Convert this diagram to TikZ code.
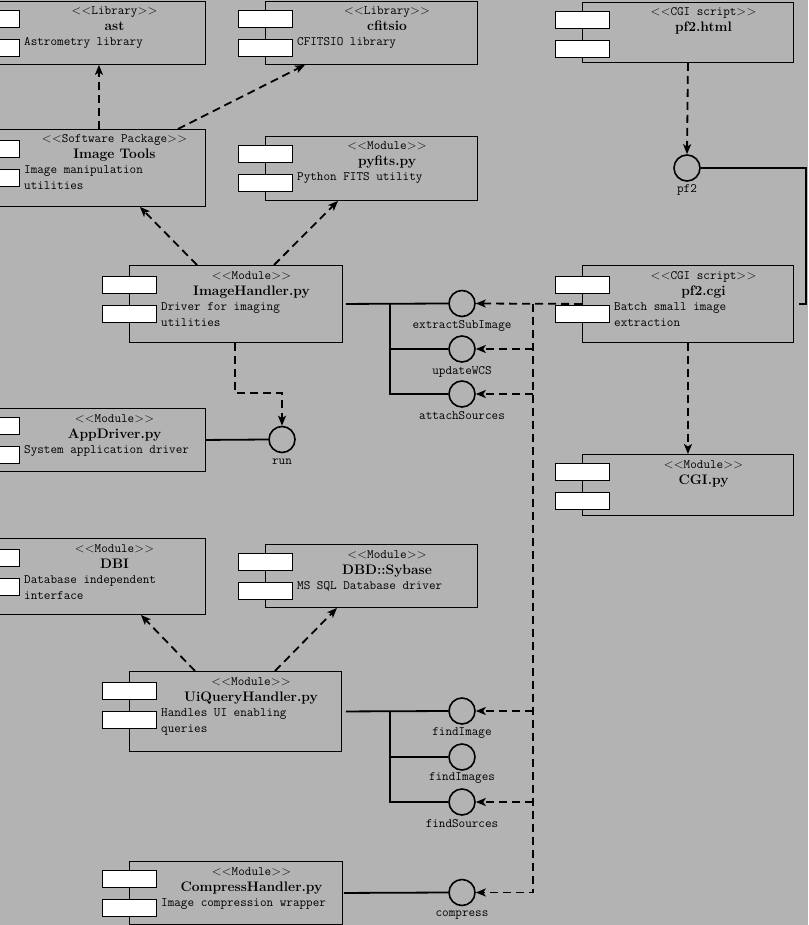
\documentclass[tikz,border=0pt]{standalone}
\usepackage{fontspec}
\usetikzlibrary{arrows.meta}
\definecolor{bg}{RGB}{179,179,179}
\newcommand\tsize{\fontsize{12.8}{15}\selectfont}
\newcommand\titlesize{\fontsize{13.8}{16}\selectfont}
\newcommand\stl{<\kern0.4pt<}
\newcommand\stg{>\kern0.4pt>}
\newcommand\stereo[1]{{\rmfamily\stl}\texttt{#1}{\rmfamily\stg}}
\tikzset{
  compbox/.style={draw, line width=0.9pt, inner sep=0pt, anchor=north west},
  port/.style={draw, fill=white, line width=0.9pt, minimum width=54pt, minimum height=17pt, inner sep=0pt, anchor=north west},
  iface/.style={circle, draw, line width=1.6pt, minimum size=26pt, inner sep=0pt},
  dep/.style={dash pattern=on 8pt off 5pt, line width=1.8pt, -{Stealth[length=10pt,width=8pt,inset=2.5pt]}},
  conn/.style={line width=1.8pt},
  stereotext/.style={font=\tsize, anchor=base, inner sep=0pt},
  titletext/.style={font=\titlesize\bfseries, anchor=base, inner sep=0pt},
  desctext/.style={font=\tsize\ttfamily, anchor=base west, inner sep=0pt},
  labeltext/.style={font=\tsize\ttfamily, anchor=base, inner sep=0pt},
}
% #1 name, #2 x left, #3 y top, #4 x right, #5 y bottom, #6 stereotype, #7 title, #8 #9 description lines
\newcommand\comp[9]{%
  \pgfmathsetmacro\cw{#4-(#2)}%
  \pgfmathsetmacro\ch{#5-(#3)}%
  \pgfmathsetmacro\po{((#5-(#3))>70)?11:9}%
  \pgfmathsetmacro\cx{(#2+27+#4)/2+2.5}%
  \node[compbox, minimum width=\cw pt, minimum height=\ch pt] (#1) at (#2,#3) {};
  \node[port] (#1-p1) at ({#2-27},{#3+\po}) {};
  \node[port] (#1-p2) at ({#2-27},{#3+\po+29}) {};
  \node[stereotext] (#1-s) at (\cx,{#3+14}) {\stereo{#6}};
  \node[titletext] (#1-t) at (\cx,{#3+30}) {#7};
  \if\relax\detokenize{#8}\relax\else
    \node[desctext] (#1-d1) at ({#2+32},{#3+45}) {#8};
  \fi
  \if\relax\detokenize{#9}\relax\else
    \node[desctext] (#1-d2) at ({#2+32},{#3+61}) {#9};
  \fi
}
\begin{document}
\begin{tikzpicture}[x=1pt, y=-1pt]
\useasboundingbox (0,0) rectangle (808,925);
\fill[bg] (0,0) rectangle (808,925);
\clip (0,0) rectangle (808,925);

% components
\comp{ast}{-8}{1}{205}{64}{Library}{ast}{Astrometry library}{}
\comp{cfitsio}{265}{1}{477}{64}{Library}{cfitsio}{CFITSIO library}{}
\comp{pfhtml}{582}{2}{793}{62}{CGI script}{pf2.html}{}{}
\comp{imagetools}{-8}{129}{205}{206}{Software Package}{Image Tools}{Image manipulation}{utilities}
\comp{pyfits}{265}{136}{477}{200}{Module}{pyfits.py}{Python FITS utility}{}
\comp{imagehandler}{129}{265}{342}{342}{Module}{ImageHandler.py}{Driver for imaging}{utilities}
\comp{pfcgi}{582}{265}{793}{342}{CGI script}{pf2.cgi}{Batch small image}{extraction}
\comp{appdriver}{-8}{408}{205}{471}{Module}{AppDriver.py}{System application driver}{}
\comp{cgipy}{582}{454}{793}{515}{Module}{CGI.py}{}{}
\comp{dbi}{-8}{538}{205}{614}{Module}{DBI}{Database independent}{interface}
\comp{dbd}{265}{544}{477}{607}{Module}{DBD::Sybase}{MS SQL Database driver}{}
\comp{uiquery}{129}{671}{341}{751}{Module}{UiQueryHandler.py}{Handles UI enabling}{queries}
\comp{compressh}{129}{861}{342}{924}{Module}{CompressHandler.py}{Image compression wrapper}{}

% interfaces
\node[iface] (pf2) at (687,168) {};
\node[labeltext] (pf2-l) at (687,193) {pf2};
\node[iface] (esi) at (462,303.5) {};
\node[labeltext] (esi-l) at (462,328) {extractSubImage};
\node[iface] (uwcs) at (462,349) {};
\node[labeltext] (uwcs-l) at (462,374) {updateWCS};
\node[iface] (asrc) at (462,394) {};
\node[labeltext] (asrc-l) at (462,419) {attachSources};
\node[iface] (run) at (282,439.5) {};
\node[labeltext] (run-l) at (282,464) {run};
\node[iface] (fimg) at (462,711) {};
\node[labeltext] (fimg-l) at (462,735) {findImage};
\node[iface] (fimgs) at (462,757) {};
\node[labeltext] (fimgs-l) at (462,780) {findImages};
\node[iface] (fsrc) at (462,802) {};
\node[labeltext] (fsrc-l) at (462,827) {findSources};
\node[iface] (cmpr) at (462,892.5) {};
\node[labeltext] (cmpr-l) at (462,916) {compress};

% dependencies
\draw[dep] (imagetools.north) -- (ast.south);
\draw[dep] ([xshift=-28pt]imagetools.north east) -- ([xshift=40pt]cfitsio.south west);
\draw[dep] ([xshift=68pt]imagehandler.north west) -- ([xshift=-66pt]imagetools.south east);
\draw[dep] ([xshift=145pt]imagehandler.north west) -- ([xshift=73pt]pyfits.south west);
\draw[dep] ([xshift=106pt]imagehandler.south west) -- ++(0,50) -| (run.north);
\draw[dep] (pfhtml.south) -- (pf2.north);
\draw[dep] (pfcgi.south) -- (cgipy.north);
\draw[dep] ([xshift=66pt]uiquery.north west) -- ([xshift=-65pt]dbi.south east);
\draw[dep] ([xshift=146pt]uiquery.north west) -- ([xshift=72pt]dbd.south west);

% dashed bus from pf2.cgi
\coordinate (bt) at (533,303.5);
\coordinate (bb) at (533,892.5);
\draw[dep] (pfcgi.west) -- (esi.east);
\draw[dep] (bt) -- (bb) -- (cmpr.east);
\draw[dep] (bt |- uwcs) -- (uwcs.east);
\draw[dep] (bt |- asrc) -- (asrc.east);
\draw[dep] (bt |- fimg) -- (fimg.east);
\draw[dep] (bt |- fsrc) -- (fsrc.east);

% solid connections
\coordinate (rc) at (806,168);
\draw[conn] (pf2.east) -- (rc) |- ([xshift=5pt]pfcgi.east);
\coordinate (ihb) at (390,303.5);
\draw[conn] ([xshift=3pt]imagehandler.east) -- (esi.west);
\draw[conn] (ihb) |- (asrc.west);
\draw[conn] (ihb |- uwcs) -- (uwcs.west);
\draw[conn] (appdriver.east) -- (run.west);
\coordinate (uib) at (390,711);
\draw[conn] ([xshift=4pt]uiquery.east) -- (fimg.west);
\draw[conn] (uib) |- (fsrc.west);
\draw[conn] (uib |- fimgs) -- (fimgs.west);
\draw[conn] ([xshift=1pt]compressh.east) -- (cmpr.west);
\end{tikzpicture}
\end{document}
